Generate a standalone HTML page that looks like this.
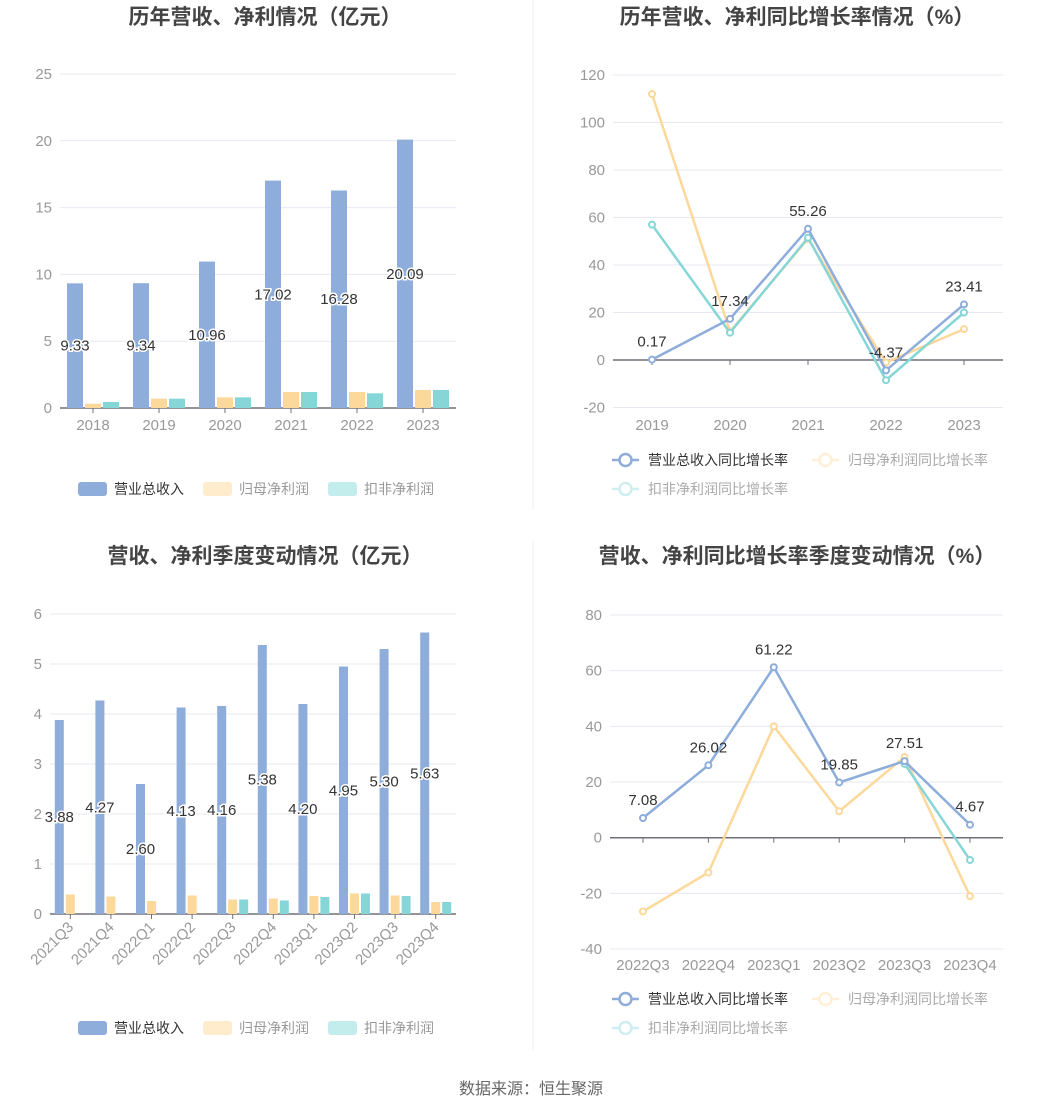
<!DOCTYPE html>
<html><head><meta charset="utf-8">
<style>
body{margin:0;background:#fff;width:1062px;height:1113px;overflow:hidden;font-family:"Liberation Sans","Noto Sans CJK SC",sans-serif;}
svg text{font-family:"Liberation Sans","Noto Sans CJK SC",sans-serif;}
</style></head><body>
<svg id="s" width="1062" height="1113" xmlns="http://www.w3.org/2000/svg">
<line x1="533" y1="0" x2="533" y2="510" stroke="#f0f0f0"/>
<line x1="533" y1="540" x2="533" y2="1050" stroke="#f0f0f0"/>
<text x="265" y="24" text-anchor="middle" font-size="21" font-weight="bold" fill="#444">历年营收、净利情况（亿元）</text>
<text x="797" y="24" text-anchor="middle" font-size="21" font-weight="bold" fill="#444">历年营收、净利同比增长率情况（%）</text>
<text x="265" y="563" text-anchor="middle" font-size="21" font-weight="bold" fill="#444">营收、净利季度变动情况（亿元）</text>
<text x="797" y="563" text-anchor="middle" font-size="21" font-weight="bold" fill="#444">营收、净利同比增长率季度变动情况（%）</text>
<text x="531" y="1094" text-anchor="middle" font-size="16" fill="#666">数据来源：恒生聚源</text>
</svg>
<script>
const yearsA=["2018","2019","2020","2021","2022","2023"];
const revA=[9.33,9.34,10.96,17.02,16.28,20.09];
const netA=[0.32,0.70,0.80,1.20,1.20,1.35];
const dedA=[0.45,0.70,0.80,1.20,1.10,1.35];
const ticksA=[0,5,10,15,20,25];

const yearsB=["2019","2020","2021","2022","2023"];
const revGB=[0.17,17.34,55.26,-4.37,23.41];
const netGB=[112,12,51,-1,13];
const dedGB=[57,11.5,51.5,-8.5,20];
const ticksB=[-20,0,20,40,60,80,100,120];

const qC=["2021Q3","2021Q4","2022Q1","2022Q2","2022Q3","2022Q4","2023Q1","2023Q2","2023Q3","2023Q4"];
const revC=[3.88,4.27,2.60,4.13,4.16,5.38,4.20,4.95,5.30,5.63];
const netC=[0.39,0.35,0.26,0.37,0.29,0.31,0.36,0.41,0.37,0.24];
const dedC=[null,null,null,null,0.29,0.27,0.34,0.41,0.36,0.24];
const ticksC=[0,1,2,3,4,5,6];

const qD=["2022Q3","2022Q4","2023Q1","2023Q2","2023Q3","2023Q4"];
const revGD=[7.08,26.02,61.22,19.85,27.51,4.67];
const netGD=[-26.5,-12.5,40,9.5,29,-21];
const dedGD=[null,null,null,null,26.5,-8];
const ticksD=[-40,-20,0,20,40,60,80];

const NS="http://www.w3.org/2000/svg";
const svg=document.getElementById('s');
const C1="#8eaddb",C2="#fdd89b",C3="#86d6d8";
function mk(tag,attrs,parent){const e=document.createElementNS(NS,tag);for(const k in attrs)e.setAttribute(k,attrs[k]);(parent||svg).appendChild(e);return e;}
function txt(x,y,s,attrs){const e=mk('text',Object.assign({x:x,y:y},attrs));e.textContent=s;return e;}

function axes(g,x0,x1,yScale,ticks,cats,catX,rot,name,labelY){
  ticks.forEach(t=>{
    const y=yScale(t);
    const l=mk('line',{x1:x0,x2:x1,y1:y,y2:y,stroke:"#e6e9f2"},g);
    
    
    const tt=txt(x0-8,y+5,String(t),{"text-anchor":"end","font-size":15,fill:"#999"});
    
    
  });
  const y0=yScale(0);
  const ax=mk('line',{x1:x0,x2:x1,y1:y0,y2:y0,stroke:"#6e7079","stroke-width":1.5},g);
  
  
  cats.forEach((c,i)=>{
    const x=catX(i);
    mk('line',{x1:x,x2:x,y1:y0,y2:y0+5,stroke:"#6e7079"},g);
    let t;
    if(rot){t=txt(x+4,y0+14,c,{"text-anchor":"end","font-size":15,fill:"#999",transform:`rotate(-45 ${x+4} ${y0+14})`});}
    else{t=txt(x,labelY,c,{"text-anchor":"middle","font-size":15,fill:"#999"});}
    
    
  });
}

function barChart(name,cats,series,ticks,x0,x1,yTop,yBot,maxV,bw,gap,rot,labelY){
  const g=mk('g',{});
  
  
  const ys=v=>yBot-(v/maxV)*(yBot-yTop);
  const cw=(x1-x0)/cats.length;
  const grp=3*bw+2*gap;
  axes(g,x0,x1,ys,ticks,cats,i=>x0+cw*(i+0.5),rot,name,labelY);
  const cols=[C1,C2,C3],nm=['revenue-bar','net-profit-bar','deducted-profit-bar'];
  series.forEach((arr,si)=>{
    arr.forEach((v,i)=>{
      if(v===null)return;
      const x=x0+cw*i+(cw-grp)/2+si*(bw+gap);
      const r=mk('rect',{x:x,y:ys(v),width:bw,height:ys(0)-ys(v),fill:cols[si]},g);
      
      
    });
  });
  series[0].forEach((v,i)=>{
    const x=x0+cw*i+(cw-grp)/2+bw/2;
    const t=txt(x,(ys(v)+ys(0))/2+5,v.toFixed(2),{"text-anchor":"middle","font-size":15,fill:"#333",stroke:"#fff","stroke-width":3,"paint-order":"stroke"});
    
    
  });
}

function lineChart(name,cats,series,ticks,x0,x1,first,last,yScale,labelY){
  const g=mk('g',{});
  
  
  const step=(last-first)/(cats.length-1);
  const xs=i=>first+step*i;
  axes(g,x0,x1,yScale,ticks,cats,xs,false,name,labelY);
  const cols=[C2,C3,C1],nm=['net-growth','deducted-growth','revenue-growth'];
  [series[1],series[2],series[0]].forEach((arr,si)=>{
    let d='';
    arr.forEach((v,i)=>{if(v===null)return;d+=(d?'L':'M')+xs(i)+' '+yScale(v);});
    const p=mk('path',{d:d,fill:"none",stroke:cols[si],"stroke-width":2.5},g);
    
    
    arr.forEach((v,i)=>{
      if(v===null)return;
      const c=mk('circle',{cx:xs(i),cy:yScale(v),r:3,fill:"#fff",stroke:cols[si],"stroke-width":2},g);
      
      
    });
  });
  series[0].forEach((v,i)=>{
    const t=txt(xs(i),yScale(v)-13,v.toFixed(2),{"text-anchor":"middle","font-size":15,fill:"#333"});
    
    
  });
}

function barLegend(y,name){
  const g=mk('g',{});
  
  
  const items=[["营业总收入",C1,"#333",78],["归母净利润","#ffeccc","#999",203],["扣非净利润","#c3ecec","#999",328]];
  items.forEach(it=>{
    const r=mk('rect',{x:it[3],y:y-7,width:29,height:14,rx:3,fill:it[1]},g);
    
    
    const t=txt(it[3]+36,y+5,it[0],{"font-size":14,fill:it[2]});
    
    
  });
}
function lineLegend(y,name){
  const g=mk('g',{});
  
  
  const items=[["营业总收入同比增长率",C1,"#333",612,y,1],["归母净利润同比增长率",C2,"#aaa",812,y,0.4],["扣非净利润同比增长率",C3,"#aaa",612,y+29,0.4]];
  items.forEach(it=>{
    const ic=mk('g',{opacity:it[5]},g);
    mk('line',{x1:it[3],x2:it[3]+27,y1:it[4],y2:it[4],stroke:it[1],"stroke-width":2.5},ic);
    mk('circle',{cx:it[3]+13.5,cy:it[4],r:6,fill:"#fff",stroke:it[1],"stroke-width":2.5},ic);
    
    
    const t=txt(it[3]+36,it[4]+5,it[0],{"font-size":14,fill:it[2]});
    
    
  });
}

barChart('annual-bar-chart',yearsA,[revA,netA,dedA],ticksA,60,456,74,408,25,16,2,false,430);
barLegend(489,'annual-bar-legend');
lineChart('annual-growth-chart',yearsB,[revGB,netGB,dedGB],ticksB,613,1003,652,964,v=>360-v*2.375,430);
lineLegend(460,'annual-growth-legend');
barChart('quarterly-bar-chart',qC,[revC,netC,dedC],ticksC,50,456,614,914,6,9,2,true,0);
barLegend(1028,'quarterly-bar-legend');
lineChart('quarterly-growth-chart',qD,[revGD,netGD,dedGD],ticksD,610,1003,643,970,v=>837.7-v*2.784,970);
lineLegend(999,'quarterly-growth-legend');
</script>
</body></html>
